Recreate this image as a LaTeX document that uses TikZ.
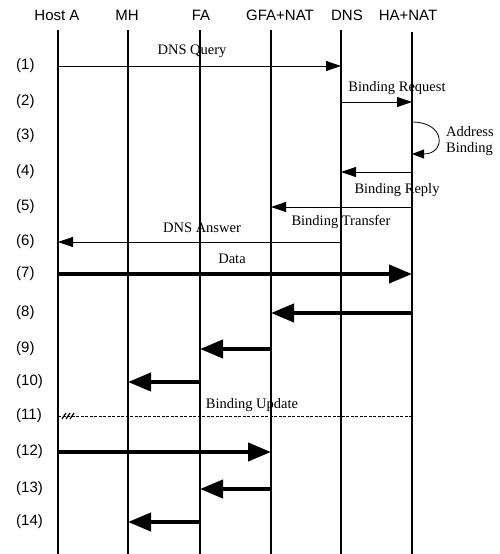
\documentclass[tikz,border=0pt]{standalone}
\usepackage{fontspec}
\setmainfont{Liberation Serif}
\setsansfont{Liberation Sans}
\usetikzlibrary{arrows.meta}

\begin{document}
\begin{tikzpicture}[x=1pt,y=-1pt,
  head/.style={font=\sffamily\fontsize{15}{17}\selectfont, anchor=base},
  num/.style={font=\sffamily\fontsize{15}{17}\selectfont, anchor=west, inner sep=0pt},
  lbl/.style={font=\fontsize{14.5}{16.5}\selectfont, inner sep=0pt},
  life/.style={line width=1.1pt},
  msg/.style={line width=0.8pt, -{Triangle[length=15pt,width=10pt]}},
  bulk/.style={line width=4pt, -{Triangle[length=23pt,width=18pt]}}]
  \useasboundingbox (0,0) rectangle (499,554);

  \node[head] (hHostA) at (57,20.5) {Host A};
  \node[head] (hMH) at (127,20.5) {MH};
  \node[head] (hFA) at (201,20.5) {FA};
  \node[head] (hGFA) at (280,20.5) {GFA+NAT};
  \node[head] (hDNS) at (347,20.5) {DNS};
  \node[head] (hHA) at (408,20.5) {HA+NAT};

  \coordinate (lA) at (58,30);
  \coordinate (lMH) at (128,30);
  \coordinate (lFA) at (200,30);
  \coordinate (lGFA) at (271,30);
  \coordinate (lDNS) at (341,30);
  \coordinate (lHA) at (412,32);
  \coordinate (bot) at (0,554);
  \foreach \c in {lA,lMH,lFA,lGFA,lDNS,lHA}
    \draw[life] (\c) -- (\c |- bot);

  \foreach \n/\y in {1/66,2/102,3/136,4/172,5/207,6/242,7/274,
                     8/313,9/349,10/382,11/416,12/452,13/489,14/522}
    \node[num] (r\n) at (16,\y) {(\n)};

  \draw[msg] (lA |- r1) -- (lDNS |- r1);
  \node[lbl] (tQuery) at (192,51) {DNS Query};
  \draw[msg] (lDNS |- r2) -- (lHA |- r2);
  \node[lbl] (tRequest) at (397,88) {Binding Request};
  \draw[line width=0.8pt, -{Triangle[length=12pt,width=9pt]}]
    ([yshift=14pt]lHA |- r3) .. controls +(34,0) and +(34,0) .. ([yshift=-18pt]lHA |- r3);
  \node[lbl, align=left, anchor=west] (tAddress) at (446,141) {Address\\Binding};
  \draw[msg] (lHA |- r4) -- (lDNS |- r4);
  \node[lbl] (tReply) at (397,190) {Binding Reply};
  \draw[msg] (lHA |- r5) -- (lGFA |- r5);
  \node[lbl] (tTransfer) at (341,222) {Binding Transfer};
  \draw[msg] (lDNS |- r6) -- (lA |- r6);
  \node[lbl] (tAnswer) at (202,228) {DNS Answer};

  \draw[bulk] (lA |- r7) -- (lHA |- r7);
  \node[lbl] (tData) at (232,259) {Data};
  \draw[bulk] (lHA |- r8) -- (lGFA |- r8);
  \draw[bulk] (lGFA |- r9) -- (lFA |- r9);
  \draw[bulk] (lFA |- r10) -- (lMH |- r10);

  \draw[line width=0.7pt, dash pattern=on 3pt off 1.5pt] (lHA |- r11) -- (lA |- r11);
  \foreach \d in {0,4,8}
    \draw[line width=1.2pt] ([xshift={4pt+\d pt}, yshift=-3pt]lA |- r11) -- ++(4,-6);
  \node[lbl] (tUpdate) at (252,405) {Binding Update};

  \draw[bulk] (lA |- r12) -- (lGFA |- r12);
  \draw[bulk] (lGFA |- r13) -- (lFA |- r13);
  \draw[bulk] (lFA |- r14) -- (lMH |- r14);
\end{tikzpicture}
\end{document}
